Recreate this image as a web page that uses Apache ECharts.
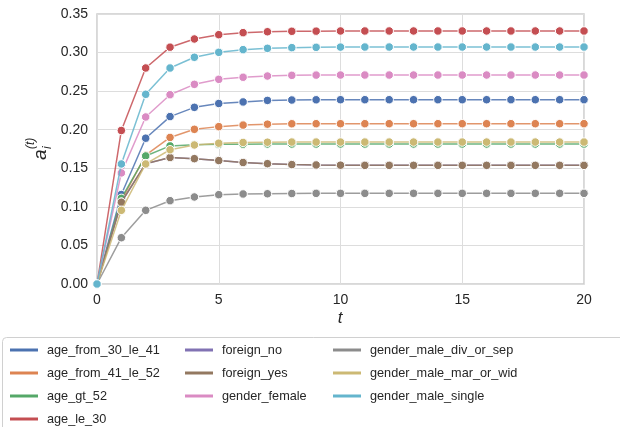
<!DOCTYPE html>
<html>
<head>
<meta charset="utf-8">
<script src="https://cdn.jsdelivr.net/npm/echarts@6/dist/echarts.min.js"></script>
<style>html,body{margin:0;padding:0;background:#fff}#c{width:620px;height:427px}</style>
</head>
<body>
<div id="c"></div>
<script>
const steps = [0,1,2,3,4,5,6,7,8,9,10,11,12,13,14,15,16,17,18,19,20];
const seriesNames = ['age_from_30_le_41','age_from_41_le_52','age_gt_52','age_le_30','foreign_no','foreign_yes','gender_female','gender_male_div_or_sep','gender_male_mar_or_wid','gender_male_single'];
const colors = ['#4c72b0','#dd8452','#55a868','#c44e52','#8172b3','#937860','#da8bc3','#8c8c8c','#ccb974','#64b5cd'];
const age_from_30_le_41 = [0,0.116,0.189,0.217,0.229,0.234,0.236,0.238,0.2385,0.2388,0.2389,0.2389,0.2389,0.2389,0.2389,0.2389,0.2389,0.2389,0.2389,0.2389,0.2389];
const age_from_41_le_52 = [0,0.108,0.167,0.190,0.2005,0.204,0.206,0.2072,0.2077,0.2078,0.2078,0.2078,0.2078,0.2078,0.2078,0.2078,0.2078,0.2078,0.2078,0.2078,0.2078];
const age_gt_52 = [0,0.111,0.166,0.179,0.1806,0.181,0.1813,0.1815,0.1815,0.1815,0.1815,0.1815,0.1815,0.1815,0.1815,0.1815,0.1815,0.1815,0.1815,0.1815,0.1815];
const age_le_30 = [0,0.199,0.280,0.307,0.3176,0.3232,0.3258,0.327,0.3276,0.3278,0.328,0.328,0.328,0.328,0.328,0.328,0.328,0.328,0.328,0.328,0.328];
const foreign_no = [0,0.106,0.156,0.164,0.1625,0.160,0.1575,0.156,0.1548,0.1543,0.154,0.1538,0.1538,0.1538,0.1538,0.1538,0.1538,0.1538,0.1538,0.1538,0.1538];
const foreign_yes = [0,0.106,0.156,0.164,0.1625,0.160,0.1575,0.156,0.1548,0.1543,0.154,0.1538,0.1538,0.1538,0.1538,0.1538,0.1538,0.1538,0.1538,0.1538,0.1538];
const gender_female = [0,0.144,0.2165,0.2454,0.2588,0.2653,0.268,0.2696,0.2705,0.2708,0.2709,0.2709,0.2709,0.2709,0.2709,0.2709,0.2709,0.2709,0.2709,0.2709,0.2709];
const gender_male_div_or_sep = [0,0.060,0.0955,0.108,0.1128,0.1158,0.1167,0.117,0.1173,0.1175,0.1175,0.1175,0.1175,0.1175,0.1175,0.1175,0.1175,0.1175,0.1175,0.1175,0.1175];
const gender_male_mar_or_wid = [0,0.0955,0.1556,0.174,0.1802,0.1825,0.1835,0.1838,0.184,0.184,0.184,0.184,0.184,0.184,0.184,0.184,0.184,0.184,0.184,0.184,0.184];
const gender_male_single = [0,0.1556,0.2459,0.280,0.2939,0.3003,0.3038,0.3055,0.3064,0.3068,0.3071,0.3072,0.3072,0.3072,0.3072,0.3072,0.3072,0.3072,0.3072,0.3072,0.3072];
const values = [age_from_30_le_41,age_from_41_le_52,age_gt_52,age_le_30,foreign_no,foreign_yes,gender_female,gender_male_div_or_sep,gender_male_mar_or_wid,gender_male_single];
const xTicks = [0,5,10,15,20];
const yTicks = [0,0.05,0.10,0.15,0.20,0.25,0.30,0.35];

const chart = echarts.init(document.getElementById('c'));
const font = 'Liberation Sans, Arial, sans-serif';
const series = seriesNames.map((n,i)=>({
  name:n, type:'line', data: steps.map((s,j)=>[s, values[i][j]]),
  symbol:'circle', symbolSize:8.5, showSymbol:true,
  lineStyle:{width:1.5, color:colors[i], opacity:0.85},
  itemStyle:{color:colors[i], borderColor:'#fff', borderWidth:1},
  z: 2+i, animation:false
}));
function legendCol(names, left){
  return {orient:'vertical', left:left, top:342, height:140, padding:0,
    data:names.map(n=>({name:n, itemStyle:{color:colors[seriesNames.indexOf(n)], opacity:1, borderWidth:0}})),
    icon:'rect', itemWidth:28, itemHeight:3,
    itemGap:7, textStyle:{fontFamily:font, fontSize:12.7, color:'#262626', lineHeight:16, padding:[0,0,0,4]}, selectedMode:false};
}
chart.setOption({
  animation:false,
  color: colors,
  grid:{left:97, right:36, top:14, bottom:143, show:true, borderColor:'#cccccc', borderWidth:1.5},
  xAxis:{type:'value', min:xTicks[0], max:xTicks[xTicks.length-1], interval:5,
    axisLine:{show:false}, axisTick:{show:false},
    splitLine:{lineStyle:{color:'#dddddd', width:1}},
    axisLabel:{fontFamily:font, fontSize:14, color:'#262626', margin:9}},
  yAxis:{type:'value', min:yTicks[0], max:yTicks[yTicks.length-1], interval:0.05,
    axisLine:{show:false}, axisTick:{show:false},
    splitLine:{lineStyle:{color:'#dddddd', width:1}},
    axisLabel:{fontFamily:font, fontSize:14, color:'#262626', margin:9, formatter:v=>v.toFixed(2)}},
  legend:[legendCol(seriesNames.slice(0,4), 10), legendCol(seriesNames.slice(4,7), 185), legendCol(seriesNames.slice(7,10), 333)],
  graphic:[
    {type:'rect', shape:{x:2.5, y:337.5, width:700, height:200, r:4}, style:{fill:'#fff', stroke:'#d0d0d0', lineWidth:1}, z:-10},
    {type:'text', style:{text:'t', font:'italic 17px '+font, fill:'#262626', x:340, y:318, textAlign:'center', textVerticalAlign:'middle'}},
    {type:'group', position:[41,160], rotation:Math.PI/2, children:[
      {type:'text', style:{text:'a', font:'italic 19px '+font, fill:'#262626', x:0, y:0, textAlign:'left', textVerticalAlign:'middle'}},
      {type:'text', style:{text:'i', font:'italic 12px '+font, fill:'#262626', x:11, y:7, textAlign:'left', textVerticalAlign:'middle'}},
      {type:'text', style:{text:'(t)', font:'italic 12px '+font, fill:'#262626', x:11, y:-10, textAlign:'left', textVerticalAlign:'middle'}}
    ]}
  ],
  series: series
});
</script>
</body>
</html>
